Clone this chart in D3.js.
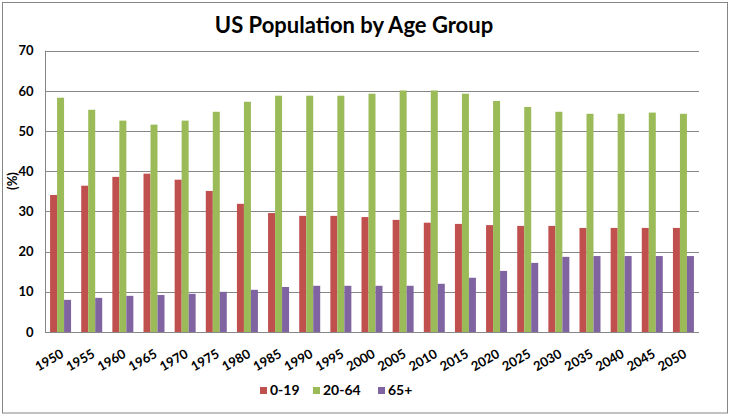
<!DOCTYPE html>
<html>
<head>
<meta charset="utf-8">
<script src="https://cdn.jsdelivr.net/npm/d3@7"></script>
<style>
  html, body { margin: 0; padding: 0; background: #fff; }
  svg { display: block; }
  text { font-family: Lato, "Open Sans", "Liberation Sans", sans-serif; font-weight: bold; fill: #000; }
</style>
</head>
<body>
<svg id="chart" width="730" height="416"></svg>
<script>
const years = ["1950","1955","1960","1965","1970","1975","1980","1985","1990","1995","2000","2005","2010","2015","2020","2025","2030","2035","2040","2045","2050"];
const age0to19 = [34.1,36.4,38.6,39.4,37.9,35.1,31.9,29.6,28.9,28.9,28.6,27.9,27.2,26.9,26.6,26.4,26.4,25.9,25.9,25.9,25.9];
const age20to64 = [58.3,55.3,52.6,51.6,52.6,54.8,57.3,58.8,58.8,58.8,59.3,60.1,60.1,59.3,57.5,56.0,54.8,54.3,54.3,54.6,54.3];
const age65plus = [8.0,8.5,9.0,9.2,9.5,10.0,10.5,11.2,11.5,11.5,11.5,11.5,12.0,13.5,15.2,17.2,18.7,18.9,18.9,18.9,18.9];
const seriesNames = ["0-19","20-64","65+"];
const yTicks = [0,10,20,30,40,50,60,70];
const titleText = "US Population by Age Group";
const yAxisLabel = "(%)";

const colors = ["#C0504D","#9BBB59","#8064A2"];
const seriesData = [age0to19, age20to64, age65plus];

const svg = d3.select("#chart");
const plot = {left: 45, right: 699, top: 50.7, bottom: 332};

// outer border
svg.append("rect")
  .attr("x", 2.5).attr("y", 2.5).attr("width", 725).attr("height", 410.5)
  .attr("fill", "#fff").attr("stroke", "#868686").attr("stroke-width", 1);

// title
svg.append("text")
  .attr("x", 354).attr("y", 33)
  .attr("text-anchor", "middle")
  .style("font-size", "22px")
  .text(titleText);

const x0 = d3.scaleBand().domain(years).range([plot.left, plot.right])
  .paddingInner(0.326).paddingOuter(0.163);
const x1 = d3.scaleBand().domain(seriesNames).range([0, x0.bandwidth()]);
const y = d3.scaleLinear().domain([0, 70]).range([plot.bottom, plot.top]);

// gridlines
svg.append("g")
  .selectAll("line")
  .data(yTicks.filter(d => d > 0))
  .join("line")
  .attr("x1", plot.left).attr("x2", plot.right)
  .attr("y1", d => Math.round(y(d)) + 0.5).attr("y2", d => Math.round(y(d)) + 0.5)
  .attr("stroke", "#868686").attr("stroke-width", 1);

// bars
const groups = svg.append("g").selectAll("g")
  .data(years)
  .join("g")
  .attr("transform", d => `translate(${x0(d)},0)`);

groups.selectAll("rect")
  .data((yr, i) => seriesNames.map((s, k) => ({s, k, v: seriesData[k][i]})))
  .join("rect")
  .attr("x", d => x1(d.s))
  .attr("width", x1.bandwidth())
  .attr("y", d => y(d.v))
  .attr("height", d => y(0) - y(d.v))
  .attr("fill", d => colors[d.k]);

// y axis
const yAxis = d3.axisLeft(y).tickValues(yTicks).tickSize(0).tickPadding(12).tickFormat(d3.format("d"));
const gy = svg.append("g").attr("transform", `translate(${plot.left + 0.5},0)`).call(yAxis);
gy.select(".domain").attr("stroke", "#868686").attr("d", `M0,${plot.top}V${plot.bottom}`);
gy.selectAll("text").style("font-size", "13px").style("font-family", "Lato, 'Open Sans', sans-serif").attr("fill", "#000");

// x axis
const xAxis = d3.axisBottom(x0).tickSize(0).tickPadding(0);
const gx = svg.append("g").attr("transform", `translate(0,${plot.bottom + 0.5})`).call(xAxis);
gx.select(".domain").attr("stroke", "#868686").attr("d", `M${plot.left},0H${plot.right}`);
gx.selectAll("text")
  .style("font-size", "13px")
  .style("font-family", "Lato, 'Open Sans', sans-serif")
  .attr("fill", "#000")
  .attr("text-anchor", "end")
  .attr("dy", "0")
  .attr("transform", "translate(4,24) rotate(-30)");

// y label
svg.append("text")
  .attr("transform", "translate(17,181) rotate(-90)")
  .attr("text-anchor", "middle")
  .style("font-size", "13px")
  .text(yAxisLabel);

// legend
const legendX = [260, 313, 378];
const legend = svg.append("g").selectAll("g")
  .data(seriesNames)
  .join("g")
  .attr("transform", (d, i) => `translate(${legendX[i]},387)`);
legend.append("rect").attr("width", 7).attr("height", 7).attr("fill", (d, i) => colors[i]);
legend.append("text").attr("x", 10).attr("y", 8).style("font-size", "14px").text(d => d);
</script>
</body>
</html>
